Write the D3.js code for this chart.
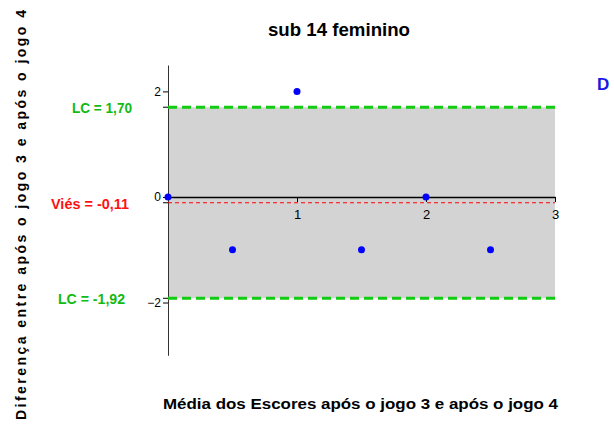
<!DOCTYPE html>
<html>
<head>
<meta charset="utf-8">
<script src="https://cdn.jsdelivr.net/npm/d3@7"></script>
<style>
  html, body { margin: 0; padding: 0; background: #fff; }
  svg { display: block; }
  text { font-family: "Liberation Sans", Arial, sans-serif; }
</style>
</head>
<body>
<svg id="chart" width="614" height="428"></svg>
<script>
// Bland-Altman: média x diferença entre após o jogo 3 e após o jogo 4
const meanScores = [0, 0.5, 1, 1.5, 2, 2.5];
const differences = [0, -1, 2, -1, 0, -1];
const bias = -0.11;
const upperLimit = 1.70;
const lowerLimit = -1.92;
const xTicks = [1, 2, 3];
const yTicks = [-2, 0, 2];
const limitLabels = ["LC = 1,70", "Viés = -0,11", "LC = -1,92"];

const svg = d3.select("#chart");

const x = d3.scaleLinear().domain([0, 3]).range([168, 555]);
const y = d3.scaleLinear().domain([-3, 2.5]).range([355.3, 65]);

// Faixa de concordância
svg.append("rect")
  .attr("x", x(0)).attr("y", y(upperLimit))
  .attr("width", x(3) - x(0)).attr("height", y(lowerLimit) - y(upperLimit))
  .attr("fill", "#d3d3d3");

// Eixo Y
const yAxis = svg.append("g")
  .attr("transform", `translate(${x(0)},0)`)
  .call(d3.axisLeft(y).tickValues(yTicks).tickSize(5).tickSizeOuter(0).tickFormat(d3.format("d")));
yAxis.select(".domain").attr("stroke", "#333");
yAxis.selectAll("text").attr("font-size", 12).attr("fill", "#000").attr("dx", "1");

// Eixo X na linha do zero
const xAxis = svg.append("g")
  .attr("transform", `translate(0,${y(0)})`)
  .call(d3.axisBottom(x).tickValues(xTicks).tickSize(5).tickSizeOuter(0).tickFormat(d3.format("d")));
xAxis.select(".domain").attr("stroke", "#000").attr("stroke-width", 1.5);
xAxis.selectAll("text").attr("font-size", 13).attr("fill", "#000").attr("dy", "1.1em");

// Marcas extras no eixo Y para os limites e o viés
svg.selectAll(".limtick")
  .data([upperLimit, bias, lowerLimit])
  .join("line")
  .attr("x1", x(0) - 5).attr("x2", x(0))
  .attr("y1", d => y(d)).attr("y2", d => y(d))
  .attr("stroke", "#000");

// Limites de concordância
svg.selectAll(".lc")
  .data([upperLimit, lowerLimit])
  .join("line")
  .attr("x1", x(0)).attr("x2", x(3))
  .attr("y1", d => y(d)).attr("y2", d => y(d))
  .attr("stroke", "#11cc11").attr("stroke-width", 3)
  .attr("stroke-dasharray", "9,5");

// Viés
svg.append("line")
  .attr("x1", x(0)).attr("x2", x(3))
  .attr("y1", y(bias)).attr("y2", y(bias))
  .attr("stroke", "#ff0000").attr("stroke-width", 1)
  .attr("stroke-dasharray", "4,3");

// Pontos
svg.selectAll(".pt")
  .data(meanScores.map((m, i) => [m, differences[i]]))
  .join("circle")
  .attr("cx", d => x(d[0])).attr("cy", d => y(d[1]))
  .attr("r", 3.5).attr("fill", "#0000ff");

// Rótulos dos limites (fonte condensada)
const labelData = [
  { v: upperLimit, t: limitLabels[0], c: "#11bb11", left: 72, w: 60 },
  { v: bias, t: limitLabels[1], c: "#ff1111", left: 51, w: 78 },
  { v: lowerLimit, t: limitLabels[2], c: "#11bb11", left: 58, w: 67 }
];
svg.selectAll(".lbl")
  .data(labelData)
  .join("text")
  .attr("x", d => d.left).attr("y", d => y(d.v) + 6)
  .attr("font-size", 15.5).attr("font-weight", "bold")
  .attr("textLength", d => d.w).attr("lengthAdjust", "spacingAndGlyphs")
  .attr("fill", d => d.c)
  .text(d => d.t);

// Título
svg.append("text")
  .attr("x", 268).attr("y", 36)
  .attr("font-size", 18).attr("font-weight", "bold")
  .attr("textLength", 142).attr("lengthAdjust", "spacingAndGlyphs")
  .text("sub 14 feminino");

// Legenda cortada à direita
svg.append("text")
  .attr("x", 597).attr("y", 90)
  .attr("font-size", 17).attr("font-weight", "bold")
  .attr("fill", "#1a1adf")
  .text("D");

// Título do eixo X
svg.append("text")
  .attr("x", 163).attr("y", 409)
  .attr("font-size", 14).attr("font-weight", "bold")
  .attr("textLength", 395).attr("lengthAdjust", "spacingAndGlyphs")
  .text("Média dos Escores após o jogo 3 e após o jogo 4");

// Título do eixo Y
svg.append("text")
  .attr("transform", "translate(26,420) rotate(-90)")
  .attr("font-size", 14).attr("font-weight", "bold")
  .attr("textLength", 410).attr("lengthAdjust", "spacing")
  .text("Diferença entre após o jogo 3 e após o jogo 4");
</script>
</body>
</html>
